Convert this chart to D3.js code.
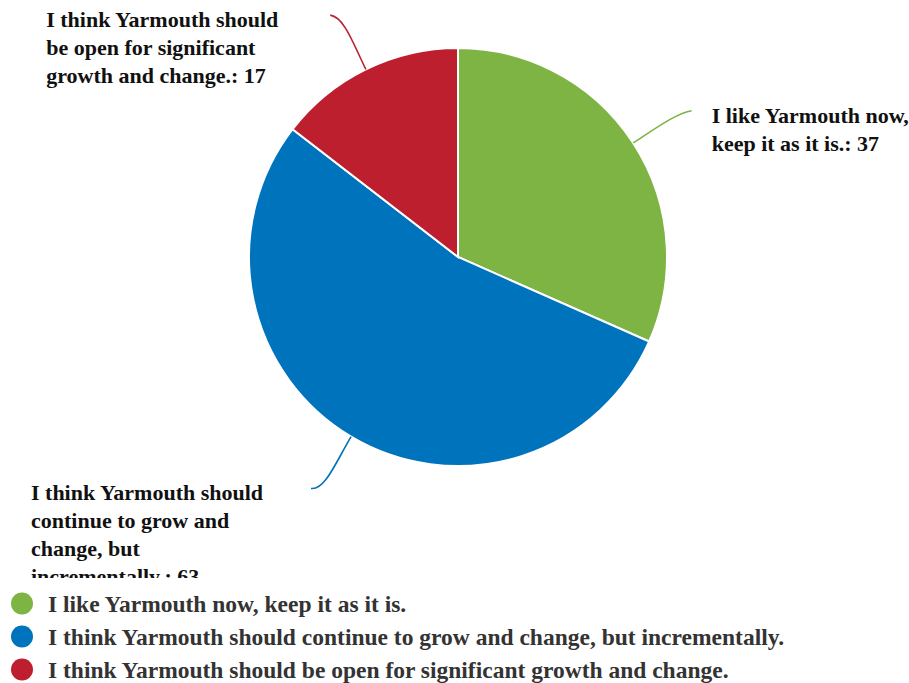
<!DOCTYPE html>
<html>
<head>
<meta charset="utf-8">
<script src="https://cdn.jsdelivr.net/npm/d3@7"></script>
<style>
  body { margin: 0; background: #fff; }
  svg { display: block; }
</style>
</head>
<body>
<script>
// DATA
const answers = [
  "I like Yarmouth now, keep it as it is.",
  "I think Yarmouth should continue to grow and change, but incrementally.",
  "I think Yarmouth should be open for significant growth and change."
];
const counts = [37, 63, 17];
const colors = ["#7db443", "#0073bd", "#bd1f2e"];

// USEFUL VARIABLES
const svgwidth = 909;
const svgheight = 683;
const center = { x: 458, y: 257 };
const radius = 209;
const chartBottom = 578;

const svg = d3.select("body").append("svg")
  .attr("width", svgwidth)
  .attr("height", svgheight)
  .style("font-family", "'Liberation Serif', 'Times New Roman', serif");

svg.append("clipPath").attr("id", "chartclip")
  .append("rect").attr("x", 0).attr("y", 0)
  .attr("width", svgwidth).attr("height", chartBottom);

const chart = svg.append("g").attr("clip-path", "url(#chartclip)");
const pieG = chart.append("g")
  .attr("transform", `translate(${center.x}, ${center.y})`);

const data = answers.map((a, i) => ({ answer: a, count: counts[i], color: colors[i] }));

const pie = d3.pie().sort(null).value(d => d.count);
const arc = d3.arc().innerRadius(0).outerRadius(radius);
const arcs = pie(data);

// SLICES
pieG.selectAll("path.slice").data(arcs).enter()
  .append("path").classed("slice", true)
  .attr("d", arc)
  .attr("fill", d => d.data.color)
  .attr("stroke", "#fff")
  .attr("stroke-width", 2);

// CONNECTORS + LABELS
const pt = (a, r) => [Math.sin(a) * r, -Math.cos(a) * r];
const fontSize = 22;
const lineH = 28;

arcs.forEach(d => {
  const mid = (d.startAngle + d.endAngle) / 2;
  const right = Math.sin(mid) > 0;
  const lower = Math.cos(mid) < 0;
  const p0 = pt(mid, radius);
  const c1 = pt(mid, radius * 1.14);
  const pe = pt(mid, radius * 1.3);
  const end = [pe[0] + (right ? 6 : -8), pe[1] + (lower ? -2 : 2)];
  const c2 = [end[0] + (right ? -14 : 14), end[1] + 2];
  pieG.append("path")
    .attr("d", `M${p0[0]},${p0[1]} C${c1[0]},${c1[1]} ${c2[0]},${c2[1]} ${end[0]},${end[1]}`)
    .attr("fill", "none")
    .attr("stroke", d.data.color)
    .attr("stroke-width", 1.6);

  const ex = center.x + end[0];
  const ey = center.y + end[1];
  const lx = right ? ex + 20 : (ex < 320 ? ex - 280 : ex - 284);
  const maxW = right ? 200 : 240;

  const text = chart.append("text")
    .attr("x", lx).attr("y", ey + 12)
    .attr("font-size", fontSize)
    .attr("font-weight", "bold")
    .attr("fill", "#111");

  // simple word wrap
  const words = `${d.data.answer}: ${d.data.count}`.split(" ");
  let line = [];
  let tspan = text.append("tspan").attr("x", lx).attr("dy", 0);
  words.forEach(w => {
    line.push(w);
    tspan.text(line.join(" "));
    if (tspan.node().getComputedTextLength() > maxW && line.length > 1) {
      line.pop();
      tspan.text(line.join(" "));
      line = [w];
      tspan = text.append("tspan").attr("x", lx).attr("dy", lineH).text(w);
    }
  });
});

// LEGEND
const legend = svg.append("g").classed("legend", true);
const ly = d3.scaleBand().domain(answers).range([587, 686]);
const items = legend.selectAll("g").data(data).enter().append("g")
  .attr("transform", d => `translate(0, ${ly(d.answer) + ly.bandwidth() / 2})`);
items.append("circle")
  .attr("cx", 22).attr("cy", 0).attr("r", 11)
  .attr("fill", d => d.color);
items.append("text")
  .attr("x", 48).attr("y", 8.5)
  .attr("font-size", 23.5)
  .attr("font-weight", "bold")
  .attr("fill", "#333")
  .text(d => d.answer);
</script>
</body>
</html>
